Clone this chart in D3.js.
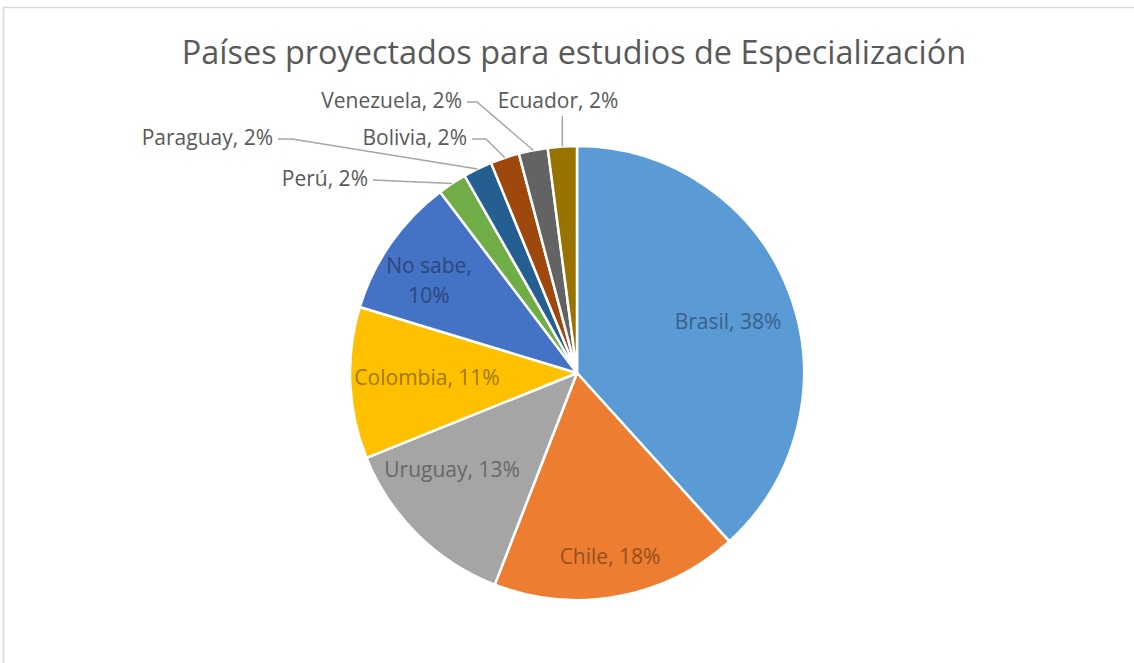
<!DOCTYPE html>
<html>
<head>
<meta charset="utf-8">
<script src="https://cdn.jsdelivr.net/npm/d3@7"></script>
<style>
  body { margin: 0; background: #fff; }
  svg { display: block; font-family: "Open Sans", Lato, sans-serif; }
</style>
</head>
<body>
<div class="plot"></div>
<script>
// DATA
var countries = ["Brasil", "Chile", "Uruguay", "Colombia", "No sabe", "Perú", "Paraguay", "Bolivia", "Venezuela", "Ecuador"];
var shares = [38.3, 17.6, 13.0, 10.8, 10.0, 2.06, 2.06, 2.06, 2.06, 2.06];
var shareLabels = ["38%", "18%", "13%", "11%", "10%", "2%", "2%", "2%", "2%", "2%"];
var colors = ["#5b9bd5", "#ed7d31", "#a5a5a5", "#ffc000", "#4472c4", "#70ad47", "#255e91", "#9e480e", "#636363", "#997300"];
var title = "Países proyectados para estudios de Especialización";

// LAYOUT
var w = 1134;
var h = 663;
var cx = 577, cy = 373, radius = 227;

// label placement (Excel "best fit" style), relative to the pie centre
var labelLayout = [
  { inside: true, dx: 151, dy: -51 },
  { inside: true, dx: 33, dy: 184 },
  { inside: true, dx: -125, dy: 97 },
  { inside: true, dx: -150, dy: 5 },
  { inside: true, dx: -148, dy: -91, wrap: true },
  { inside: false, anchor: "end", dx: -209, dy: -187, elbow: 0 },
  { inside: false, anchor: "end", dx: -304, dy: -228, elbow: 14 },
  { inside: false, anchor: "end", dx: -110, dy: -228, elbow: 14 },
  { inside: false, anchor: "end", dx: -115, dy: -265, elbow: 10 },
  { inside: false, anchor: "middle", dx: -19, dy: -265 }
];

var data = countries.map(function (c, i) {
  return { country: c, value: shares[i], label: shareLabels[i], color: colors[i], layout: labelLayout[i] };
});

var svg = d3.select(".plot").append("svg").attr("width", w).attr("height", h);

// chart area border
svg.append("rect")
  .attr("x", 3.5).attr("y", 7.5)
  .attr("width", w + 20).attr("height", h + 20)
  .attr("fill", "#fff")
  .attr("stroke", "#d9d9d9")
  .attr("stroke-width", 1.5);

// title
svg.append("text")
  .attr("x", 574)
  .attr("y", 64)
  .attr("text-anchor", "middle")
  .attr("font-size", "32.4px")
  .attr("fill", "#595959")
  .text(title);

var pie = d3.pie().sort(null).value(function (d) { return d.value; });
var arcs = pie(data);

var arc = d3.arc().innerRadius(0).outerRadius(radius);

var g = svg.append("g").attr("transform", "translate(" + cx + "," + cy + ")");

g.selectAll("path.slice")
  .data(arcs)
  .enter()
  .append("path")
  .attr("class", "slice")
  .attr("d", arc)
  .attr("fill", function (d) { return d.data.color; })
  .attr("stroke", "#fff")
  .attr("stroke-width", 2.5)
  .attr("stroke-linejoin", "round");

// inside labels
var inside = arcs.filter(function (d) { return d.data.layout.inside; });
inside.forEach(function (d) {
  var L = d.data.layout;
  var t = g.append("text")
    .attr("text-anchor", "middle")
    .attr("font-size", "21px")
    .attr("fill", d3.color(d.data.color).darker(1.3).formatHex());
  if (L.wrap) {
    t.append("tspan").attr("x", L.dx).attr("y", L.dy - 9).text(d.data.country + ",");
    t.append("tspan").attr("x", L.dx).attr("y", L.dy + 21).text(d.data.label);
  } else {
    t.attr("x", L.dx).attr("y", L.dy + 7).text(d.data.country + ", " + d.data.label);
  }
});

// outside labels with leader lines
var outside = arcs.filter(function (d) { return !d.data.layout.inside; });
outside.forEach(function (d) {
  var L = d.data.layout;
  var mid = (d.startAngle + d.endAngle) / 2;
  var ex = Math.sin(mid) * radius;
  var ey = -Math.cos(mid) * radius;

  g.append("text")
    .attr("x", L.dx)
    .attr("y", L.dy)
    .attr("text-anchor", L.anchor)
    .attr("font-size", "21px")
    .attr("fill", "#595959")
    .text(d.data.country + ", " + d.data.label);

  var pts;
  if (L.anchor === "middle") {
    pts = [[ex, L.dy + 8], [ex, ey]];
  } else {
    var sx = L.dx + 5, sy = L.dy - 6;
    pts = [[sx, sy], [sx + L.elbow, sy], [ex, ey]];
  }
  g.append("path")
    .attr("d", d3.line()(pts))
    .attr("fill", "none")
    .attr("stroke", "#a6a6a6")
    .attr("stroke-width", 1.5);
});
</script>
</body>
</html>
